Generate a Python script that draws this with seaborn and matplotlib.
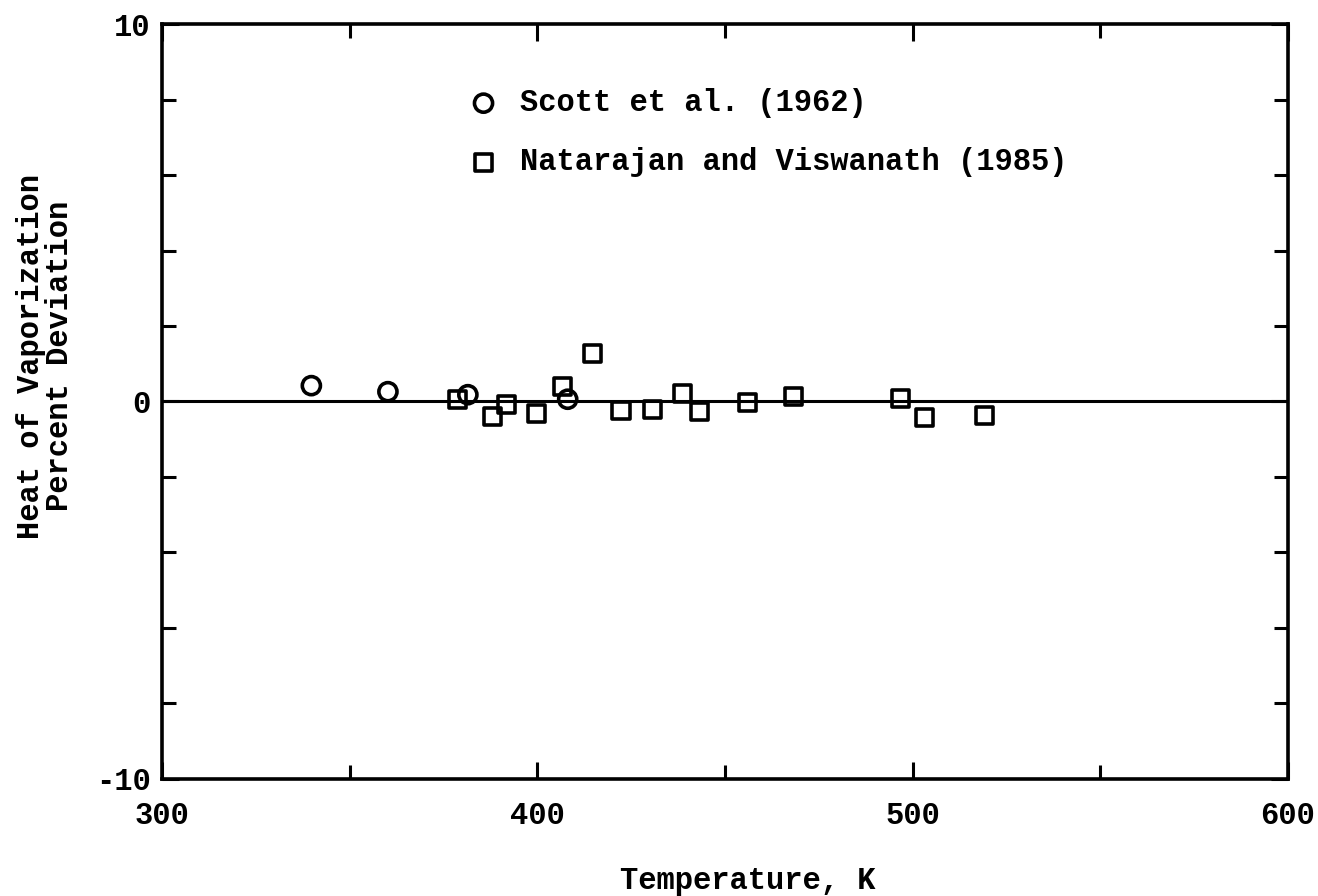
import numpy as np
import pandas as pd
import matplotlib
matplotlib.use("Agg")
import matplotlib.pyplot as plt
import seaborn as sns

# Percent deviation of heat of vaporization vs temperature
scott_T = [339.8, 360.2, 381.5, 408.1]
scott_dev = [0.42, 0.26, 0.18, 0.06]

nat_T = [378.8, 388.1, 391.7, 399.7, 406.8, 414.8, 422.3, 430.8,
         438.7, 443.2, 456.1, 468.3, 496.9, 503.2, 519.1]
nat_dev = [0.04, -0.41, -0.08, -0.31, 0.39, 1.26, -0.25, -0.21,
           0.22, -0.27, -0.02, 0.14, 0.07, -0.43, -0.36]

series_labels = ["Scott et al. (1962)", "Natarajan and Viswanath (1985)"]
x_ticks = [300, 400, 500, 600]
x_minor = [350, 450, 550]
y_ticks = [-10, 0, 10]
y_minor = [-8, -6, -4, -2, 2, 4, 6, 8]

sns.set_theme(style="ticks")
plt.rcParams["font.family"] = ["Liberation Mono", "DejaVu Sans"]
plt.rcParams["font.weight"] = "bold"
plt.rcParams["text.color"] = "black"
plt.rcParams["axes.labelcolor"] = "black"
plt.rcParams["xtick.color"] = "black"
plt.rcParams["ytick.color"] = "black"

fig = plt.figure(figsize=(13.18, 8.96), dpi=100)
ax = fig.add_axes([0.1229, 0.1306, 0.8543, 0.8426])

scott = pd.DataFrame({"T": scott_T, "dev": scott_dev})
nat = pd.DataFrame({"T": nat_T, "dev": nat_dev})

sns.scatterplot(data=scott, x="T", y="dev", marker="o", s=170,
                facecolor="none", edgecolor="black", linewidth=2.6,
                label=series_labels[0], ax=ax, zorder=3)
sns.scatterplot(data=nat, x="T", y="dev", marker="s", s=150,
                facecolor="none", edgecolor="black", linewidth=2.6,
                label=series_labels[1], ax=ax, zorder=3)

# zero-deviation reference line
ax.axhline(0, color="black", lw=2.2, zorder=2)

ax.set_xlim(300, 600)
ax.set_ylim(-10, 10)
ax.set_xticks(x_ticks)
ax.set_xticks(x_minor, minor=True)
ax.set_yticks(y_ticks)
ax.set_yticks(y_minor, minor=True)
ax.set_xticklabels([str(v) for v in x_ticks])
ax.set_yticklabels([str(v) for v in y_ticks])

ax.tick_params(axis="both", which="both", direction="in", top=True, right=True,
               width=2.2, color="black", labelcolor="black")
ax.tick_params(axis="both", which="major", length=12, labelsize=22)
ax.tick_params(axis="both", which="minor", length=10)
ax.tick_params(axis="x", which="major", pad=16)
ax.tick_params(axis="y", which="major", pad=8)
for lab in ax.get_xticklabels() + ax.get_yticklabels():
    lab.set_fontweight("bold")

for sp in ax.spines.values():
    sp.set_linewidth(2.6)
    sp.set_color("black")

ax.set_xlabel("Temperature, K", fontsize=22, fontweight="bold", color="black")
ax.set_ylabel("Heat of Vaporization\nPercent Deviation", fontsize=22,
              fontweight="bold", linespacing=0.95, color="black")
ax.xaxis.set_label_coords(0.52, -0.115)
ax.yaxis.set_label_coords(-0.077, 0.56)

leg = ax.legend(loc="upper left", bbox_to_anchor=(0.272, 0.915), frameon=False,
                prop={"family": "Liberation Mono", "weight": "bold", "size": 22},
                handlelength=1.0, handletextpad=0.7, labelspacing=0.95,
                borderpad=0, borderaxespad=0)
for txt in leg.get_texts():
    txt.set_color("black")

fig.savefig("out.png", dpi=100, facecolor="white")
